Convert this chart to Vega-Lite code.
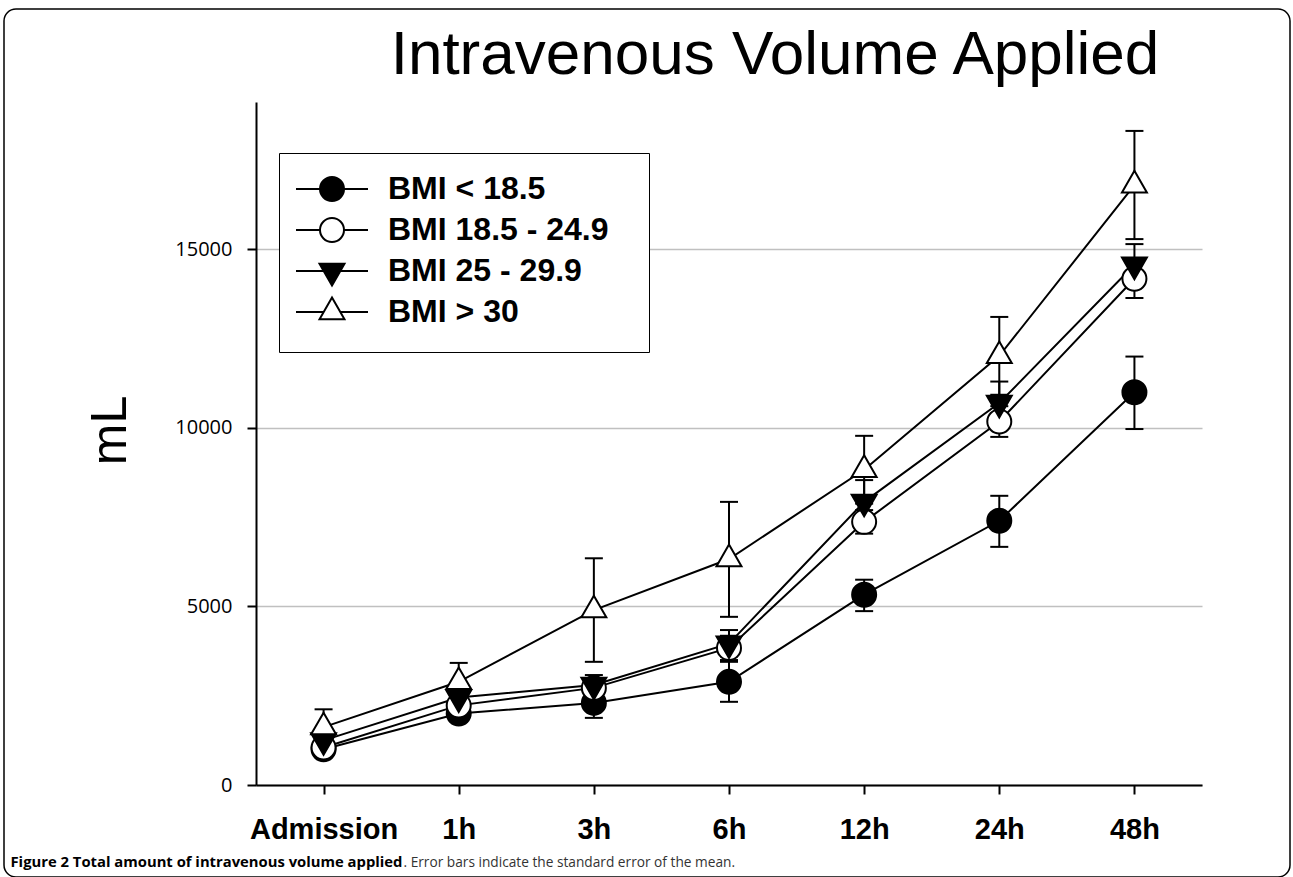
{
  "$schema": "https://vega.github.io/schema/vega-lite/v6.json",
  "width": 1286,
  "height": 868,
  "autosize": {"type": "none"},
  "padding": {"left": 4, "top": 9, "right": 3, "bottom": 0},
  "background": "white",
  "config": {
    "view": {"stroke": "black", "strokeWidth": 1.5, "cornerRadius": 12},
    "axis": {"labelFlush": false, "labelOverlap": false}
  },
  "title": {
    "text": "Intravenous Volume Applied",
    "font": "Liberation Sans",
    "fontSize": 62,
    "fontWeight": "normal",
    "color": "black",
    "anchor": "middle",
    "frame": "group",
    "offset": 0,
    "dx": 128,
    "dy": 127,
    "baseline": "alphabetic"
  },
  "data": {
    "values": [
      {"group": "BMI < 18.5", "time": "Admission", "idx": 0, "mean": 1000, "lo": 850, "hi": 1150},
      {"group": "BMI < 18.5", "time": "1h", "idx": 1, "mean": 2000, "lo": 1780, "hi": 2220},
      {"group": "BMI < 18.5", "time": "3h", "idx": 2, "mean": 2300, "lo": 1880, "hi": 2720},
      {"group": "BMI < 18.5", "time": "6h", "idx": 3, "mean": 2890, "lo": 2330, "hi": 3450},
      {"group": "BMI < 18.5", "time": "12h", "idx": 4, "mean": 5330, "lo": 4870, "hi": 5750},
      {"group": "BMI < 18.5", "time": "24h", "idx": 5, "mean": 7400, "lo": 6670, "hi": 8100},
      {"group": "BMI < 18.5", "time": "48h", "idx": 6, "mean": 11000, "lo": 9970, "hi": 12000},
      {"group": "BMI 18.5 - 24.9", "time": "Admission", "idx": 0, "mean": 1050, "lo": 900, "hi": 1200},
      {"group": "BMI 18.5 - 24.9", "time": "1h", "idx": 1, "mean": 2230, "lo": 2050, "hi": 2410},
      {"group": "BMI 18.5 - 24.9", "time": "3h", "idx": 2, "mean": 2720, "lo": 2520, "hi": 2920},
      {"group": "BMI 18.5 - 24.9", "time": "6h", "idx": 3, "mean": 3840, "lo": 3500, "hi": 4180},
      {"group": "BMI 18.5 - 24.9", "time": "12h", "idx": 4, "mean": 7370, "lo": 7040, "hi": 7700},
      {"group": "BMI 18.5 - 24.9", "time": "24h", "idx": 5, "mean": 10180, "lo": 9750, "hi": 10610},
      {"group": "BMI 18.5 - 24.9", "time": "48h", "idx": 6, "mean": 14180, "lo": 13640, "hi": 14720},
      {"group": "BMI 25 - 29.9", "time": "Admission", "idx": 0, "mean": 1250, "lo": 1100, "hi": 1400},
      {"group": "BMI 25 - 29.9", "time": "1h", "idx": 1, "mean": 2450, "lo": 2250, "hi": 2650},
      {"group": "BMI 25 - 29.9", "time": "3h", "idx": 2, "mean": 2800, "lo": 2520, "hi": 3080},
      {"group": "BMI 25 - 29.9", "time": "6h", "idx": 3, "mean": 3960, "lo": 3600, "hi": 4340},
      {"group": "BMI 25 - 29.9", "time": "12h", "idx": 4, "mean": 7930, "lo": 7320, "hi": 8540},
      {"group": "BMI 25 - 29.9", "time": "24h", "idx": 5, "mean": 10700, "lo": 10100, "hi": 11300},
      {"group": "BMI 25 - 29.9", "time": "48h", "idx": 6, "mean": 14570, "lo": 13990, "hi": 15150},
      {"group": "BMI > 30", "time": "Admission", "idx": 0, "mean": 1620, "lo": 1120, "hi": 2120},
      {"group": "BMI > 30", "time": "1h", "idx": 1, "mean": 2890, "lo": 2360, "hi": 3420},
      {"group": "BMI > 30", "time": "3h", "idx": 2, "mean": 4900, "lo": 3450, "hi": 6350},
      {"group": "BMI > 30", "time": "6h", "idx": 3, "mean": 6330, "lo": 4710, "hi": 7930},
      {"group": "BMI > 30", "time": "12h", "idx": 4, "mean": 8830, "lo": 7880, "hi": 9780},
      {"group": "BMI > 30", "time": "24h", "idx": 5, "mean": 12020, "lo": 10930, "hi": 13110},
      {"group": "BMI > 30", "time": "48h", "idx": 6, "mean": 16800, "lo": 15290, "hi": 18320}
    ]
  },
  "resolve": {
    "scale": {"shape": "independent", "fill": "independent"},
    "legend": {"shape": "independent", "fill": "independent"},
    "axis": {"x": "independent"}
  },
  "layer": [
    {
      "mark": {"type": "rule", "color": "black", "strokeWidth": 2},
      "encoding": {
        "x": {
          "field": "time", "type": "ordinal",
          "scale": {"type": "point", "domain": ["Admission", "1h", "3h", "6h", "12h", "24h", "48h"], "range": [252, 1198], "padding": 0.5},
          "axis": {
            "orient": "bottom", "offset": -92,
            "domainColor": "black", "domainWidth": 2,
            "tickColor": "black", "tickWidth": 2, "tickSize": 9,
            "labelFont": "Liberation Sans", "labelFontWeight": "bold", "labelFontSize": 29, "labelColor": "black",
            "labelPadding": 21, "labelAngle": 0, "grid": false,
            "title": "Figure 2 Total amount of intravenous volume applied",
            "titleFont": "Open Sans", "titleFontWeight": "bold", "titleFontSize": 14.8, "titleColor": "black",
            "titleX": 6, "titleY": 77, "titleAlign": "left", "titleBaseline": "middle", "titleAnchor": "start"
          }
        },
        "y": {
          "field": "lo", "type": "quantitative", "title": "mL",
          "scale": {"domain": [0, 19130], "range": [776, 93], "nice": false, "zero": true},
          "axis": {
            "orient": "left", "offset": -252,
            "domainColor": "black", "domainWidth": 2,
            "tickColor": "black", "tickWidth": 2, "tickSize": 9,
            "values": [0, 5000, 10000, 15000], "format": "d",
            "labelFont": "Open Sans", "labelFontSize": 20, "labelColor": "black", "labelPadding": 15,
            "grid": true, "gridColor": "#c0c0c0", "gridWidth": 1.5,
            "title": "mL", "titleFont": "Liberation Sans", "titleFontSize": 50, "titleFontWeight": "normal", "titleColor": "black",
            "titleX": -146, "titleY": 421, "titleAngle": -90, "titleAlign": "center", "titleBaseline": "middle"
          }
        },
        "y2": {"field": "hi"}
      }
    },
    {
      "mark": {"type": "tick", "color": "black", "thickness": 2, "size": 18, "orient": "horizontal", "opacity": 1},
      "encoding": {
        "x": {"field": "time", "type": "ordinal", "axis": null},
        "y": {"field": "hi", "type": "quantitative", "title": "mL"}
      }
    },
    {
      "mark": {"type": "tick", "color": "black", "thickness": 2, "size": 18, "orient": "horizontal", "opacity": 1},
      "encoding": {
        "x": {"field": "time", "type": "ordinal", "axis": null},
        "y": {"field": "lo", "type": "quantitative", "title": "mL"}
      }
    },
    {
      "mark": {"type": "line", "color": "black", "strokeWidth": 2},
      "encoding": {
        "x": {"field": "time", "type": "ordinal", "axis": null},
        "y": {"field": "mean", "type": "quantitative", "title": "mL"},
        "detail": {"field": "group"},
        "order": {"field": "idx", "type": "quantitative"}
      }
    },
    {
      "mark": {"type": "point", "stroke": "black", "strokeWidth": 2, "size": 576, "opacity": 1, "filled": false},
      "encoding": {
        "x": {"field": "time", "type": "ordinal", "axis": null},
        "y": {"field": "mean", "type": "quantitative", "title": "mL"},
        "shape": {
          "field": "group", "type": "nominal", "legend": null,
          "scale": {
            "domain": ["BMI < 18.5", "BMI 18.5 - 24.9", "BMI 25 - 29.9", "BMI > 30"],
            "range": ["circle", "circle", "M0,1.2L1.039,-0.6L-1.039,-0.6Z", "M0,-1.2L1.039,0.6L-1.039,0.6Z"]
          }
        },
        "fill": {
          "field": "group", "type": "nominal", "legend": null,
          "scale": {
            "domain": ["BMI < 18.5", "BMI 18.5 - 24.9", "BMI 25 - 29.9", "BMI > 30"],
            "range": ["black", "white", "black", "white"]
          }
        }
      }
    },
    {
      "transform": [{"filter": "datum.mean < 0"}],
      "mark": {"type": "point", "stroke": "black", "strokeWidth": 2, "size": 576, "opacity": 1, "filled": false},
      "encoding": {
        "x": {
          "field": "time", "type": "ordinal",
          "axis": {
            "orient": "bottom", "offset": -92, "domain": false, "ticks": false, "labels": false, "grid": false,
            "title": ". Error bars indicate the standard error of the mean.",
            "titleFont": "Open Sans", "titleFontWeight": "normal", "titleFontSize": 13.7, "titleColor": "#333333",
            "titleX": 399, "titleY": 77, "titleAlign": "left", "titleBaseline": "middle", "titleAnchor": "start"
          }
        },
        "y": {"field": "mean", "type": "quantitative", "title": "mL"},
        "shape": {
          "field": "group", "type": "nominal",
          "scale": {
            "domain": ["BMI < 18.5", "BMI 18.5 - 24.9", "BMI 25 - 29.9", "BMI > 30"],
            "range": [
              "M-1,0A1,1,0,1,0,1,0A1,1,0,1,0,-1,0ZM-3,0L-1,0M1,0L3,0M0,-1.3L0,-1.3M0,1.3L0,1.3",
              "M-1,0A1,1,0,1,0,1,0A1,1,0,1,0,-1,0ZM-3,0L-1,0M1,0L3,0M0,-1.3L0,-1.3M0,1.3L0,1.3",
              "M0,1.2L1.039,-0.6L-1.039,-0.6ZM-3,0L-0.693,0M0.693,0L3,0M0,-1.3L0,-1.3M0,1.3L0,1.3",
              "M0,-1.2L1.039,0.6L-1.039,0.6ZM-3,0L-0.693,0M0.693,0L3,0M0,-1.3L0,-1.3M0,1.3L0,1.3"
            ]
          },
          "legend": {
            "orient": "none", "legendX": 275, "legendY": 144,
            "title": "\u00a0", "titleOrient": "right", "titleFontSize": 2, "titlePadding": 20,
            "strokeColor": "black", "fillColor": "white", "padding": 20,
            "labelFont": "Liberation Sans", "labelFontWeight": "bold", "labelFontSize": 32, "labelColor": "black", "labelLimit": 500,
            "symbolSize": 576, "symbolStrokeWidth": 2, "symbolStrokeColor": "black", "symbolOpacity": 1,
            "symbolOffset": 17, "rowPadding": 1, "labelOffset": 40,
            "encoding": {"symbols": {"stroke": {"value": "black"}, "strokeWidth": {"value": 2}, "opacity": {"value": 1}}}
          }
        },
        "fill": {
          "field": "group", "type": "nominal",
          "scale": {
            "domain": ["BMI < 18.5", "BMI 18.5 - 24.9", "BMI 25 - 29.9", "BMI > 30"],
            "range": ["black", "white", "black", "white"]
          },
          "legend": {
            "orient": "none", "legendX": 275, "legendY": 144,
            "title": "\u00a0", "titleOrient": "right", "titleFontSize": 2, "titlePadding": 20,
            "strokeColor": "black", "fillColor": "white", "padding": 20,
            "labelFont": "Liberation Sans", "labelFontWeight": "bold", "labelFontSize": 32, "labelColor": "black", "labelLimit": 500,
            "symbolSize": 576, "symbolStrokeWidth": 2, "symbolStrokeColor": "black", "symbolOpacity": 1,
            "symbolOffset": 17, "rowPadding": 1, "labelOffset": 40,
            "encoding": {"symbols": {"stroke": {"value": "black"}, "strokeWidth": {"value": 2}, "opacity": {"value": 1}}}
          }
        }
      }
    }
  ]
}
